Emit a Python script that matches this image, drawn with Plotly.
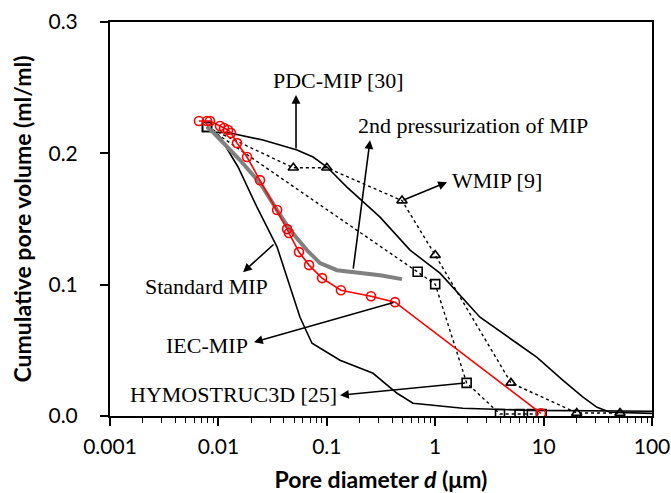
import math
import plotly.graph_objects as go

# ---------------- data ----------------
std_x = [0.00785, 0.01035, 0.01518, 0.0227, 0.0348, 0.0458, 0.0566, 0.073, 0.1324, 0.267, 0.445, 0.624, 1.80, 7.5, 100]
std_y = [0.220, 0.2124, 0.1896, 0.159, 0.1286, 0.0981, 0.0752, 0.0554, 0.0425, 0.0325, 0.0173, 0.0097, 0.0059, 0.0043, 0.0036]

pdc_x = [0.00785, 0.00891, 0.0128, 0.0258, 0.0531, 0.0747, 0.1004, 0.1534, 0.310, 0.586, 1.107, 2.59, 5.68, 8.69, 15.1, 23.1, 31.1, 41, 100]
pdc_y = [0.220, 0.2162, 0.2155, 0.2101, 0.2025, 0.1972, 0.1896, 0.1743, 0.1514, 0.1263, 0.1088, 0.0752, 0.0554, 0.0447, 0.0272, 0.0143, 0.0066, 0.0028, 0.002]

sec_x = [0.00785, 0.0089, 0.0158, 0.0242, 0.0348, 0.0458, 0.0656, 0.0865, 0.124, 0.310, 0.494]
sec_y = [0.220, 0.2162, 0.1949, 0.1774, 0.1568, 0.1415, 0.1263, 0.1164, 0.111, 0.1072, 0.1042]

iec_x = [0.00662, 0.00785, 0.00837, 0.01035, 0.01127, 0.01227, 0.01306, 0.01485, 0.01837, 0.0242, 0.0348, 0.0430, 0.0448, 0.0554, 0.0686, 0.0904, 0.135, 0.256, 0.426, 9.46]
iec_y = [0.2246, 0.2246, 0.2246, 0.2208, 0.2193, 0.2178, 0.2155, 0.2078, 0.1972, 0.1796, 0.1568, 0.1423, 0.1393, 0.1248, 0.1149, 0.1050, 0.0958, 0.0912, 0.0867, 0.002]

hym_x = [0.00785, 0.689, 1.0, 1.95, 3.96, 6.0, 7.8, 9.6]
hym_y = [0.220, 0.1098, 0.1004, 0.0252, 0.0015, 0.0015, 0.0015, 0.0015]

wmip_x = [0.00785, 0.0491, 0.1, 0.494, 1.0, 5.0, 20.2, 50.7]
wmip_y = [0.220, 0.189, 0.189, 0.164, 0.1225, 0.0252, 0.0023, 0.0023]

x_tickvals = [0.001, 0.01, 0.1, 1, 10, 100]
x_ticktext = ["0.001", "0.01", "0.1", "1", "10", "100"]
y_tickvals = [0.0, 0.1, 0.2, 0.3]
y_ticktext = ["0.0", "0.1", "0.2", "0.3"]

# ---------------- figure ----------------
fig = go.Figure()
fig.add_trace(go.Scatter(x=pdc_x, y=pdc_y, mode="lines", line=dict(color="black", width=1.6), name="PDC-MIP [30]"))
fig.add_trace(go.Scatter(x=std_x, y=std_y, mode="lines", line=dict(color="black", width=1.6), name="Standard MIP"))
wmip_symbols = ["square-open"] + ["triangle-up-open"] * (len(wmip_x) - 1)
fig.add_trace(go.Scatter(x=wmip_x, y=wmip_y, mode="lines+markers",
                         line=dict(color="black", width=1.4, dash="dot"),
                         marker=dict(symbol=wmip_symbols, size=9, color="black", line=dict(width=1.6, color="black")),
                         name="WMIP [9]"))
fig.add_trace(go.Scatter(x=hym_x, y=hym_y, mode="lines+markers",
                         line=dict(color="black", width=1.4, dash="dot"),
                         marker=dict(symbol="square-open", size=9, color="black", line=dict(width=1.6, color="black")),
                         name="HYMOSTRUC3D [25]"))
fig.add_trace(go.Scatter(x=sec_x, y=sec_y, mode="lines", line=dict(color="#808080", width=4), name="2nd pressurization of MIP"))
fig.add_trace(go.Scatter(x=iec_x, y=iec_y, mode="lines+markers",
                         line=dict(color="#ff0000", width=1.6),
                         marker=dict(symbol="circle-open", size=9, color="#ff0000", line=dict(width=1.6, color="#ff0000")),
                         name="IEC-MIP"))

serif = dict(family="Liberation Serif, Times New Roman, serif", size=22, color="black")
L = math.log10

texts = [
    ("PDC-MIP [30]", L(0.127), 0.2555),
    ("2nd pressurization of MIP", L(2.25), 0.2215),
    ("WMIP [9]", L(3.75), 0.179),
    ("Standard MIP", L(0.00769), 0.0985),
    ("IEC-MIP", L(0.00793), 0.0535),
    ("HYMOSTRUC3D [25]", L(0.01378), 0.0162),
]
for t, xx, yy in texts:
    fig.add_annotation(x=xx, y=yy, xref="x", yref="y", text=t, showarrow=False, font=serif,
                       xanchor="center", yanchor="middle")

# arrows: (tail_x, tail_y, head_x, head_y)
arrows = [
    (0.052, 0.2025, 0.052, 0.2444),
    (0.1746, 0.111, 0.2506, 0.210),
    (0.494, 0.164, 1.285, 0.178),
    (0.0333, 0.1316, 0.01687, 0.1095),
    (0.426, 0.0867, 0.0213, 0.0562),
    (1.95, 0.0252, 0.1324, 0.0158),
]
for tx, ty, hx, hy in arrows:
    fig.add_annotation(x=L(hx), y=hy, ax=L(tx), ay=ty, xref="x", yref="y", axref="x", ayref="y",
                       text="", showarrow=True, arrowhead=2, arrowsize=1.1, arrowwidth=1.6,
                       arrowcolor="black", standoff=0, startstandoff=0)

tickfont = dict(family="Lato, Open Sans, sans-serif", size=21, color="black")
titlefont = dict(family="Lato, Open Sans, sans-serif", size=23, color="black")

fig.update_layout(
    width=671, height=493,
    margin=dict(l=110, r=19, t=22, b=77),
    paper_bgcolor="white", plot_bgcolor="white",
    showlegend=False,
    xaxis=dict(
        type="log", range=[-3, 2], automargin=False,
        tickmode="array", tickvals=x_tickvals, ticktext=x_ticktext,
        ticks="outside", ticklen=8, tickwidth=1.6, tickcolor="black",
        minor=dict(tickmode="linear", dtick="D1", ticks="outside", ticklen=5, tickwidth=1.3,
                   tickcolor="black", showgrid=False),
        showline=True, linecolor="black", linewidth=2, mirror=True,
        showgrid=False, zeroline=False,
        tickfont=tickfont, ticklabelstandoff=3,
        title=dict(text="<b>Pore diameter <i>d</i> (μm)</b>", font=titlefont, standoff=22),
    ),
    yaxis=dict(
        range=[0, 0.3], automargin=False,
        tickvals=y_tickvals, ticktext=y_ticktext,
        ticks="outside", ticklen=8, tickwidth=1.6, tickcolor="black",
        showline=True, linecolor="black", linewidth=2, mirror=True,
        showgrid=False, zeroline=False,
        tickfont=tickfont, ticklabelstandoff=18,
        title=dict(text="<b>Cumulative pore volume (ml/ml)</b>", font=titlefont, standoff=10),
    ),
)

fig.write_html("out.html")
